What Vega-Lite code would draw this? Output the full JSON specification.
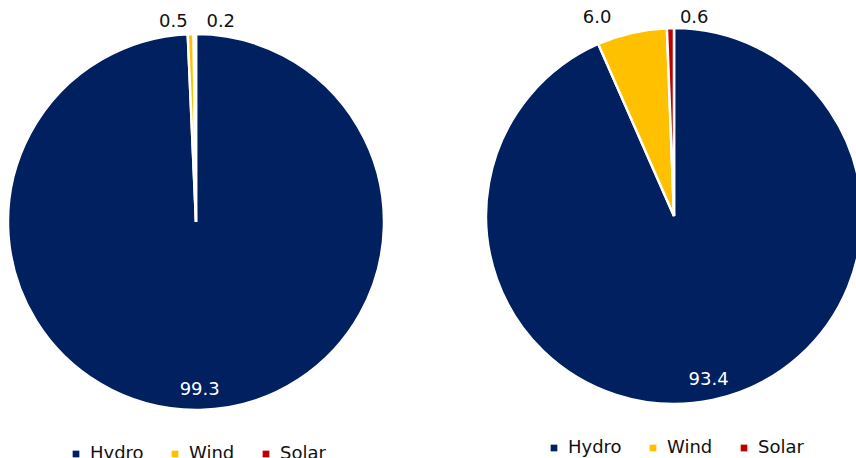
{
  "$schema": "https://vega.github.io/schema/vega-lite/v6.json",
  "padding": 0,
  "spacing": 89,
  "background": "white",
  "config": {
    "view": {"stroke": null},
    "font": "DejaVu Sans",
    "legend": {
      "orient": "bottom",
      "direction": "horizontal",
      "symbolType": "square",
      "symbolSize": 45,
      "symbolStrokeWidth": 0,
      "labelFontSize": 18,
      "labelColor": "#111111",
      "labelOffset": 5,
      "columnPadding": 22,
      "offset": 0,
      "padding": 0,
      "layout": {"bottom": {"anchor": "middle"}}
    }
  },
  "resolve": {"legend": {"color": "independent"}},
  "hconcat": [
    {
      "width": 392,
      "height": 444,
      "data": {"values": [
        {"source": "Hydro", "value": 99.3, "order": 1},
        {"source": "Wind", "value": 0.5, "order": 2},
        {"source": "Solar", "value": 0.2, "order": 3}
      ]},
      "encoding": {
        "theta": {"field": "value", "type": "quantitative", "stack": true},
        "order": {"field": "order", "type": "quantitative"}
      },
      "layer": [
        {
          "mark": {"type": "arc", "outerRadius": 188, "stroke": "white", "strokeWidth": 2.5},
          "encoding": {
            "color": {"field": "source", "type": "nominal", "title": null,
              "scale": {"domain": ["Hydro", "Wind", "Solar"], "range": ["#002060", "#FFC000", "#C00000"]},
              "legend": {"offset": 1}}
          }
        },
        {
          "mark": {"type": "text", "radius": 168, "fontSize": 18, "fill": "white"},
          "encoding": {"text": {"condition": {"test": "datum.source === 'Hydro'", "field": "value", "type": "quantitative", "format": ".1f"}, "value": ""}}
        },
        {
          "mark": {"type": "text", "radius": 200, "fontSize": 18, "fill": "#111111", "dx": -17},
          "encoding": {"text": {"condition": {"test": "datum.source === 'Wind'", "field": "value", "type": "quantitative", "format": ".1f"}, "value": ""}}
        },
        {
          "mark": {"type": "text", "radius": 200, "fontSize": 18, "fill": "#111111", "dx": 26},
          "encoding": {"text": {"condition": {"test": "datum.source === 'Solar'", "field": "value", "type": "quantitative", "format": ".1f"}, "value": ""}}
        }
      ]
    },
    {
      "width": 376,
      "height": 432,
      "data": {"values": [
        {"source": "Hydro", "value": 93.4, "order": 1},
        {"source": "Wind", "value": 6.0, "order": 2},
        {"source": "Solar", "value": 0.6, "order": 3}
      ]},
      "encoding": {
        "theta": {"field": "value", "type": "quantitative", "stack": true},
        "order": {"field": "order", "type": "quantitative"}
      },
      "layer": [
        {
          "mark": {"type": "arc", "outerRadius": 188, "stroke": "white", "strokeWidth": 2.5},
          "encoding": {
            "color": {"field": "source", "type": "nominal", "title": null,
              "scale": {"domain": ["Hydro", "Wind", "Solar"], "range": ["#002060", "#FFC000", "#C00000"]},
              "legend": {"offset": 7}}
          }
        },
        {
          "mark": {"type": "text", "radius": 168, "fontSize": 18, "fill": "white"},
          "encoding": {"text": {"condition": {"test": "datum.source === 'Hydro'", "field": "value", "type": "quantitative", "format": ".1f"}, "value": ""}}
        },
        {
          "mark": {"type": "text", "radius": 200, "fontSize": 18, "fill": "#111111", "dx": -32, "dy": -3},
          "encoding": {"text": {"condition": {"test": "datum.source === 'Wind'", "field": "value", "type": "quantitative", "format": ".1f"}, "value": ""}}
        },
        {
          "mark": {"type": "text", "radius": 200, "fontSize": 18, "fill": "#111111", "dx": 24, "dy": 2},
          "encoding": {"text": {"condition": {"test": "datum.source === 'Solar'", "field": "value", "type": "quantitative", "format": ".1f"}, "value": ""}}
        }
      ]
    }
  ]
}
